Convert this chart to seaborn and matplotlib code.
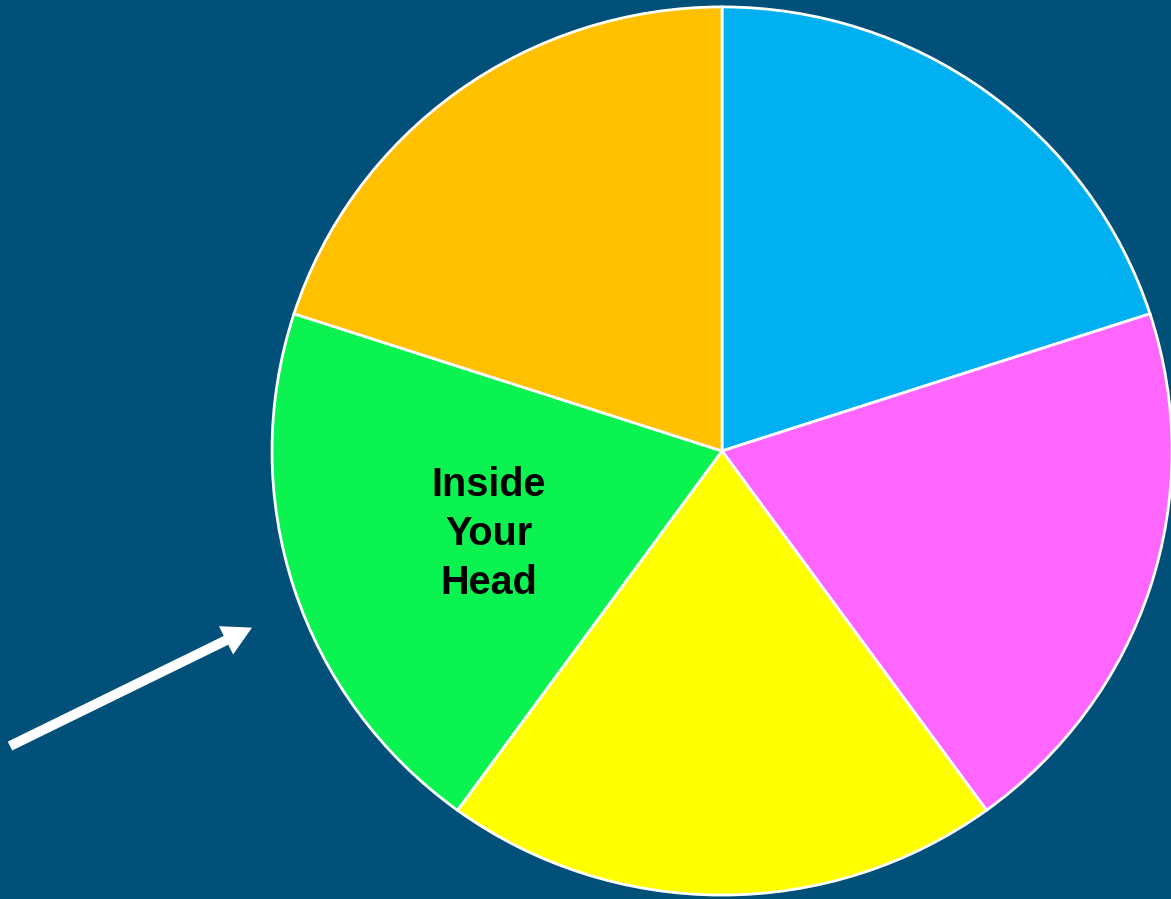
import matplotlib.pyplot as plt
import seaborn as sns

# data
slices = ['Blue', 'Pink', 'Yellow', 'Green', 'Orange']
shares = [20, 20, 20, 20, 20]
slice_labels = ['', '', '', 'Inside\nYour\nHead', '']
slice_colors = ['#00B0F0', '#FF66FF', '#FFFF00', '#0BF351', '#FFC000']
bg = '#015079'

sns.set_theme(style='white')
plt.rcParams['font.family'] = ['Liberation Sans', 'DejaVu Sans']

fig = plt.figure(figsize=(11.71, 8.99), dpi=100)
fig.patch.set_facecolor(bg)
ax = fig.add_axes([0, 0, 1, 1])
ax.set_facecolor(bg)

pal = sns.color_palette(slice_colors)
ax.pie(shares, colors=pal, startangle=90, counterclock=False,
       center=(722, 454), radius=450, frame=True,
       wedgeprops=dict(edgecolor='white', linewidth=2))

# label inside the green slice
ax.text(489, 370, slice_labels[3], fontsize=28.5, fontweight='bold',
        color='black', ha='center', va='center', linespacing=1.36)

# pointer arrow
ax.arrow(10, 155, 242, 120, width=10, head_width=32, head_length=29,
         length_includes_head=True, color='white', lw=0)

ax.set_xlim(0, 1171)
ax.set_ylim(0, 911)
ax.set_aspect('auto')
ax.axis('off')

fig.savefig('out.png', dpi=100, facecolor=bg)
